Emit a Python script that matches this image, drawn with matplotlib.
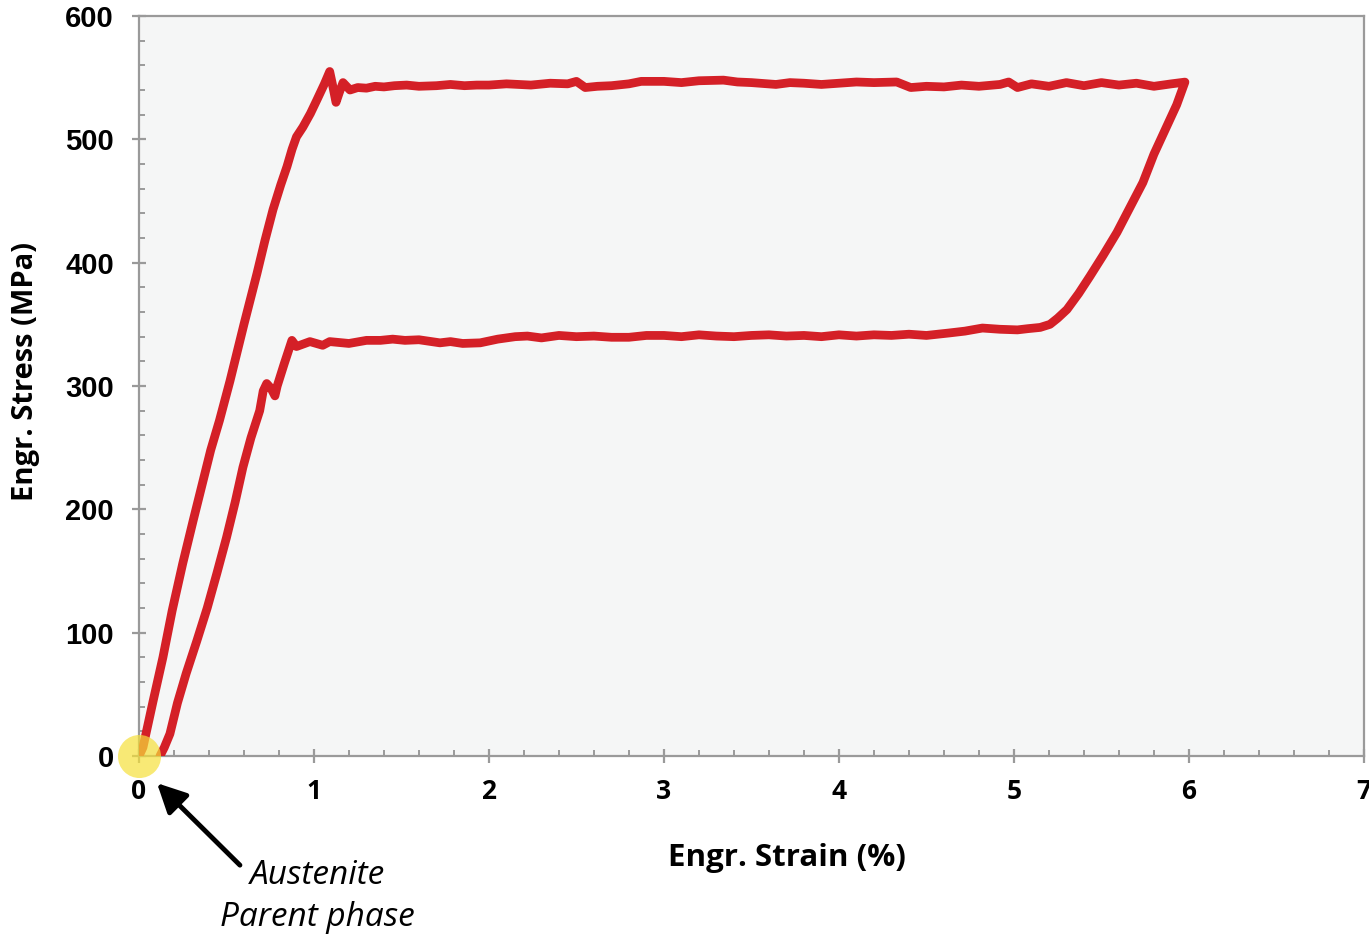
import numpy as np
import matplotlib
matplotlib.use("Agg")
import matplotlib.pyplot as plt
from matplotlib.ticker import MultipleLocator

# Superelastic cycle of a NiTi wire: loading branch (0 -> 6 %)
load_strain = [0.0, 0.023, 0.08, 0.137, 0.19, 0.25, 0.31, 0.366, 0.41, 0.46,
               0.52, 0.60, 0.674, 0.72, 0.766, 0.81, 0.846, 0.875, 0.90, 0.937,
               0.98, 1.017, 1.06, 1.09, 1.105, 1.126, 1.145, 1.166, 1.206, 1.25,
               1.30, 1.35, 1.40, 1.46, 1.53, 1.60, 1.70, 1.78, 1.86, 1.93,
               2.00, 2.10, 2.24, 2.35, 2.45, 2.50, 2.55, 2.62, 2.70, 2.80,
               2.87, 3.00, 3.10, 3.20, 3.34, 3.42, 3.50, 3.64, 3.72, 3.80,
               3.90, 4.00, 4.10, 4.20, 4.33, 4.41, 4.50, 4.60, 4.70, 4.80,
               4.92, 4.97, 5.02, 5.10, 5.20, 5.30, 5.40, 5.50, 5.60, 5.70,
               5.80, 5.90, 5.977]
load_stress = [0, 7, 44, 80, 118, 156, 191, 223, 248, 272,
               304, 350, 391, 418, 443, 463, 478, 492, 502, 510,
               521, 532, 545, 555, 545, 530, 538, 546, 540, 542,
               541.5, 543, 542.5, 543.5, 544, 543, 543.5, 544.5, 543.5, 544,
               544, 545, 544, 545.5, 545, 547, 542, 543, 543.5, 545,
               547, 547, 546, 547.5, 548, 546.5, 546, 544.5, 546, 545.5,
               544.5, 545.5, 546.5, 546, 546.5, 542, 543, 542.5, 544, 543,
               544.5, 546.5, 542, 545, 543, 546, 543.5, 546, 544, 545.5,
               543, 545, 546.4]

# Unloading branch, listed from the end of the transformation back to zero stress
unload_strain = [5.977, 5.93, 5.874, 5.80, 5.737, 5.66, 5.589, 5.51, 5.434, 5.37,
                 5.303, 5.25, 5.206, 5.15, 5.08, 5.02, 4.92, 4.82, 4.72, 4.63,
                 4.50, 4.40, 4.30, 4.20, 4.10, 4.00, 3.90, 3.80, 3.70, 3.60,
                 3.50, 3.40, 3.30, 3.20, 3.10, 3.00, 2.90, 2.80, 2.70, 2.60,
                 2.50, 2.40, 2.30, 2.22, 2.15, 2.05, 1.95, 1.85, 1.78, 1.72,
                 1.60, 1.52, 1.45, 1.38, 1.30, 1.20, 1.09, 1.05, 0.977, 0.90,
                 0.874, 0.83, 0.79, 0.777, 0.755, 0.73, 0.71, 0.69, 0.64, 0.594,
                 0.55, 0.50, 0.445, 0.39, 0.33, 0.27, 0.22, 0.177, 0.145, 0.12]
unload_stress = [546.4, 528, 510.7, 488, 465, 444, 424.6, 406, 388.9, 375,
                 362, 355, 350, 347.5, 346.5, 345.5, 346, 347, 344.5, 343,
                 341, 342, 341, 341.5, 340.5, 341.5, 340, 341, 340.5, 341.5,
                 341, 340, 340.5, 341.5, 340, 341, 341, 339.5, 339.5, 340.5,
                 340, 341, 339, 340.5, 340, 338, 335, 334.5, 336, 335,
                 337.5, 337, 338, 337, 337, 334.5, 336, 333, 336, 332,
                 337, 318, 300, 292, 298, 302, 296, 280, 258, 234,
                 206, 177, 148, 120, 93, 67, 43, 18, 7, 0]

strain = np.array(load_strain + unload_strain[1:])
stress = np.array(load_stress + unload_stress[1:])

fig = plt.figure(figsize=(13.69, 9.36), dpi=100)
ax = fig.add_axes([0.1015, 0.1923, 0.8948, 0.7906])
ax.set_facecolor("#f5f6f6")

ax.plot(strain, stress, color="#d42027", lw=6.3, solid_joinstyle="round",
        solid_capstyle="round", zorder=3)

# highlight of the austenite (unstressed) state
ax.plot([0], [0], "o", ms=31, color="#f6e03a", alpha=0.7, mec="none",
        clip_on=False, zorder=5)

ax.set_xlim(0, 7)
ax.set_ylim(0, 600)
ax.xaxis.set_major_locator(MultipleLocator(1))
ax.xaxis.set_minor_locator(MultipleLocator(0.2))
ax.yaxis.set_major_locator(MultipleLocator(100))
ax.yaxis.set_minor_locator(MultipleLocator(20))

for s in ax.spines.values():
    s.set_color("#9a9a9a")
    s.set_linewidth(1.6)

ax.tick_params(which="major", direction="inout", length=10, width=1.6,
               color="#9a9a9a")
ax.tick_params(which="minor", direction="in", length=4.5, width=1.4,
               color="#9a9a9a")
ax.tick_params(axis="x", which="major", pad=11)
ax.tick_params(axis="y", which="major", pad=13)

for lab in ax.get_xticklabels():
    lab.set_fontfamily("Open Sans")
    lab.set_fontweight("bold")
    lab.set_fontsize(19)
for lab in ax.get_yticklabels():
    lab.set_fontfamily("Liberation Sans")
    lab.set_fontweight("bold")
    lab.set_fontsize(21)

ax.set_xlabel("Engr. Strain (%)", fontfamily="Open Sans", fontweight="bold",
              fontsize=22.5)
ax.xaxis.set_label_coords(0.529, -0.118)
ax.set_ylabel("Engr. Stress (MPa)", fontfamily="Open Sans", fontweight="bold",
              fontsize=21)
ax.yaxis.set_label_coords(-0.081, 0.52)

ax.annotate("", xy=(0.103, -22), xytext=(0.577, -88.5),
            arrowprops=dict(arrowstyle="-|>", lw=3.5, color="black",
                            mutation_scale=44, shrinkA=0, shrinkB=0),
            annotation_clip=False)
ax.text(1.02, -114, "Austenite\nParent phase", ha="center", va="center",
        fontfamily="Open Sans", style="italic", fontsize=24,
        linespacing=1.35, clip_on=False)

plt.savefig("out.png", dpi=100)
